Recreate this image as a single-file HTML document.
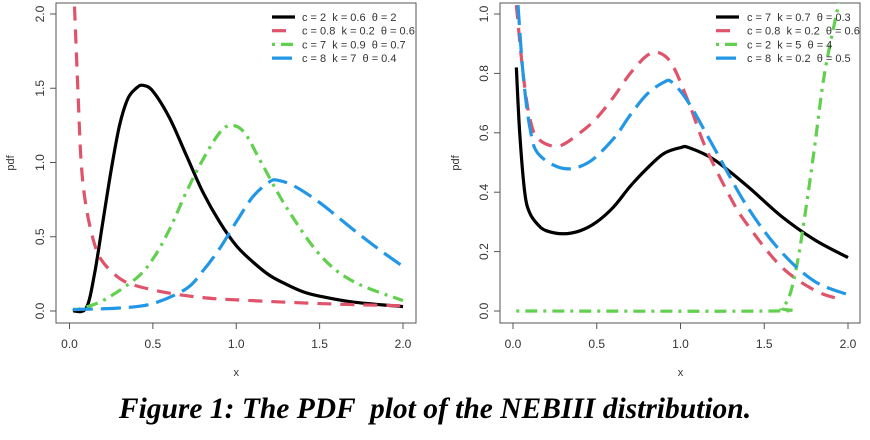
<!DOCTYPE html>
<html><head><meta charset="utf-8">
<style>
body{margin:0;background:#fff;width:870px;height:440px;overflow:hidden}
svg{position:absolute;left:0;top:0}
.cap{position:absolute;left:0;top:393px;width:870px;text-align:center;font:bold italic 29.5px "Liberation Serif",serif;color:#000;white-space:pre}
text{font-family:"Liberation Sans",sans-serif;fill:#333}
</style></head><body>
<svg id="s" width="870" height="440" xmlns="http://www.w3.org/2000/svg">
<defs>
<clipPath id="c1"><rect x="56" y="3" width="360" height="320"/></clipPath>
<clipPath id="c2"><rect x="500" y="3" width="360" height="320"/></clipPath>
</defs>
<rect x="56" y="3" width="360" height="320" fill="none" stroke="#555" stroke-width="1"/>
<rect x="500" y="3" width="360" height="320" fill="none" stroke="#555" stroke-width="1"/>
<g id="g"></g>
</svg>
<div class="cap">Figure 1: The PDF  plot of the NEBIII distribution.</div>
<script>
var g=document.getElementById('g'),NS='http://www.w3.org/2000/svg';
function el(t,a,txt){var e=document.createElementNS(NS,t);for(var k in a)e.setAttribute(k,a[k]);if(txt!==undefined)e.textContent=txt;g.appendChild(e);return e;}
var P=[{x0:69.5,x2:403,y0:311,ppu:148.5,ymax:2,yt:[0,0.5,1,1.5,2],f:1,clip:'c1',lx:272,tx:302,px:10},
       {x0:513,x2:848,y0:311,ppu:297,ymax:1,yt:[0,0.2,0.4,0.6,0.8,1],f:1,clip:'c2',lx:716,tx:747,px:455}];
var styles=[{c:'#000',d:''},{c:'#DF536B',d:'14 9'},{c:'#61D04F',d:'3 6 12 6'},{c:'#2297E6',d:'20 8'}];
var data=[[
 [[0.02,0],[0.1,0.02],[0.15,0.25],[0.2,0.6],[0.25,0.95],[0.3,1.25],[0.35,1.43],[0.4,1.5],[0.44,1.52],[0.5,1.48],[0.6,1.3],[0.7,1.05],[0.8,0.8],[0.9,0.6],[1.0,0.44],[1.1,0.33],[1.2,0.24],[1.3,0.18],[1.4,0.13],[1.5,0.1],[1.7,0.06],[2,0.03]],
 [[0.03,2.05],[0.05,1.5],[0.07,1.0],[0.1,0.7],[0.15,0.45],[0.2,0.33],[0.3,0.22],[0.4,0.17],[0.6,0.12],[0.8,0.09],[1,0.075],[1.5,0.05],[2,0.035]],
 [[0.05,0.01],[0.2,0.07],[0.4,0.22],[0.5,0.35],[0.6,0.55],[0.7,0.8],[0.8,1.02],[0.9,1.2],[0.97,1.25],[1.05,1.2],[1.15,1.0],[1.3,0.7],[1.5,0.38],[1.7,0.2],[2,0.07]],
 [[0.02,0.01],[0.3,0.02],[0.5,0.05],[0.7,0.15],[0.8,0.27],[0.9,0.42],[1.0,0.6],[1.1,0.77],[1.2,0.87],[1.25,0.88],[1.35,0.84],[1.5,0.73],[1.7,0.55],[1.85,0.42],[2,0.3]]
],[
 [[0.02,0.82],[0.04,0.6],[0.07,0.4],[0.1,0.33],[0.15,0.29],[0.2,0.27],[0.3,0.26],[0.4,0.27],[0.5,0.3],[0.6,0.35],[0.7,0.42],[0.8,0.48],[0.9,0.53],[1.0,0.55],[1.05,0.55],[1.2,0.51],[1.4,0.42],[1.6,0.32],[1.8,0.24],[2,0.18]],
 [[0.02,1.03],[0.06,0.8],[0.1,0.65],[0.15,0.58],[0.27,0.555],[0.4,0.6],[0.5,0.65],[0.6,0.72],[0.7,0.8],[0.8,0.86],[0.87,0.87],[0.95,0.83],[1.05,0.7],[1.15,0.55],[1.3,0.38],[1.4,0.29],[1.6,0.15],[1.8,0.07],[1.95,0.04]],
 [[0.02,0],[1.55,0],[1.6,0.01],[1.65,0.05],[1.7,0.17],[1.75,0.35],[1.8,0.55],[1.86,0.8],[1.95,1.05]],
 [[0.03,1.03],[0.06,0.8],[0.1,0.62],[0.15,0.53],[0.3,0.48],[0.45,0.5],[0.6,0.58],[0.7,0.66],[0.8,0.73],[0.9,0.77],[0.95,0.77],[1.05,0.7],[1.2,0.55],[1.4,0.35],[1.6,0.2],[1.8,0.1],[2,0.055]]
]];
var N='\u00a0';
function L(s){return s.replace(/ /g,N);}
var leg=[["c = 2  k = 0.6  θ = 2","c = 0.8  k = 0.2  θ = 0.6","c = 7  k = 0.9  θ = 0.7","c = 8  k = 7  θ = 0.4"],
["c = 7  k = 0.7  θ = 0.3","c = 0.8  k = 0.2  θ = 0.6","c = 2  k = 5  θ = 4","c = 8  k = 0.2  θ = 0.5"]];
function sm(pts){var d='M'+pts[0][0]+','+pts[0][1];for(var i=0;i<pts.length-1;i++){var p0=pts[i-1]||pts[i],p1=pts[i],p2=pts[i+1],p3=pts[i+2]||p2;
 d+=' C'+(p1[0]+(p2[0]-p0[0])/6)+','+(p1[1]+(p2[1]-p0[1])/6)+' '+(p2[0]-(p3[0]-p1[0])/6)+','+(p2[1]-(p3[1]-p1[1])/6)+' '+p2[0]+','+p2[1];}return d;}
P.forEach(function(p,pi){
 var sx=(p.x2-p.x0)/2;
 [0,0.5,1,1.5,2].forEach(function(v){var x=p.x0+v*sx;el('line',{x1:x,x2:x,y1:323,y2:329,stroke:'#555'});el('text',{x:x,y:348,'font-size':12,'text-anchor':'middle'},v.toFixed(1));});
 el('line',{x1:p.x0,x2:p.x2,y1:323,y2:323,stroke:'#555'});
 var ax=(pi==0?56:500);
 p.yt.forEach(function(v){var y=p.y0-v*p.ppu;el('line',{x1:ax-6,x2:ax,y1:y,y2:y,stroke:'#555'});el('text',{x:0,y:0,'font-size':12,'text-anchor':'middle',transform:'translate('+(ax-12)+','+y+') rotate(-90)'},v.toFixed(1));});
 el('text',{x:(p.x0+p.x2)/2,y:376,'font-size':11,'text-anchor':'middle'},'x');
 el('text',{x:0,y:0,'font-size':11,'text-anchor':'middle',transform:'translate('+(p.px+4)+',163) rotate(-90)'},'pdf');
 data[pi].forEach(function(s,si){var pts=s.map(function(q){return[p.x0+q[0]*sx,p.y0-q[1]*p.ppu];});
  el('path',{d:sm(pts),fill:'none',stroke:styles[si].c,'stroke-width':3.2,'stroke-dasharray':styles[si].d,'clip-path':'url(#'+p.clip+')'});});
 leg[pi].forEach(function(t,i){var y=17+i*13.7;el('line',{x1:p.lx,x2:p.lx+23,y1:y,y2:y,stroke:styles[i].c,'stroke-width':3.2,'stroke-dasharray':styles[i].d});
  el('text',{x:p.tx,y:y+4,'font-size':11,fill:'#222'},L(t));});
});
</script>
</body></html>
